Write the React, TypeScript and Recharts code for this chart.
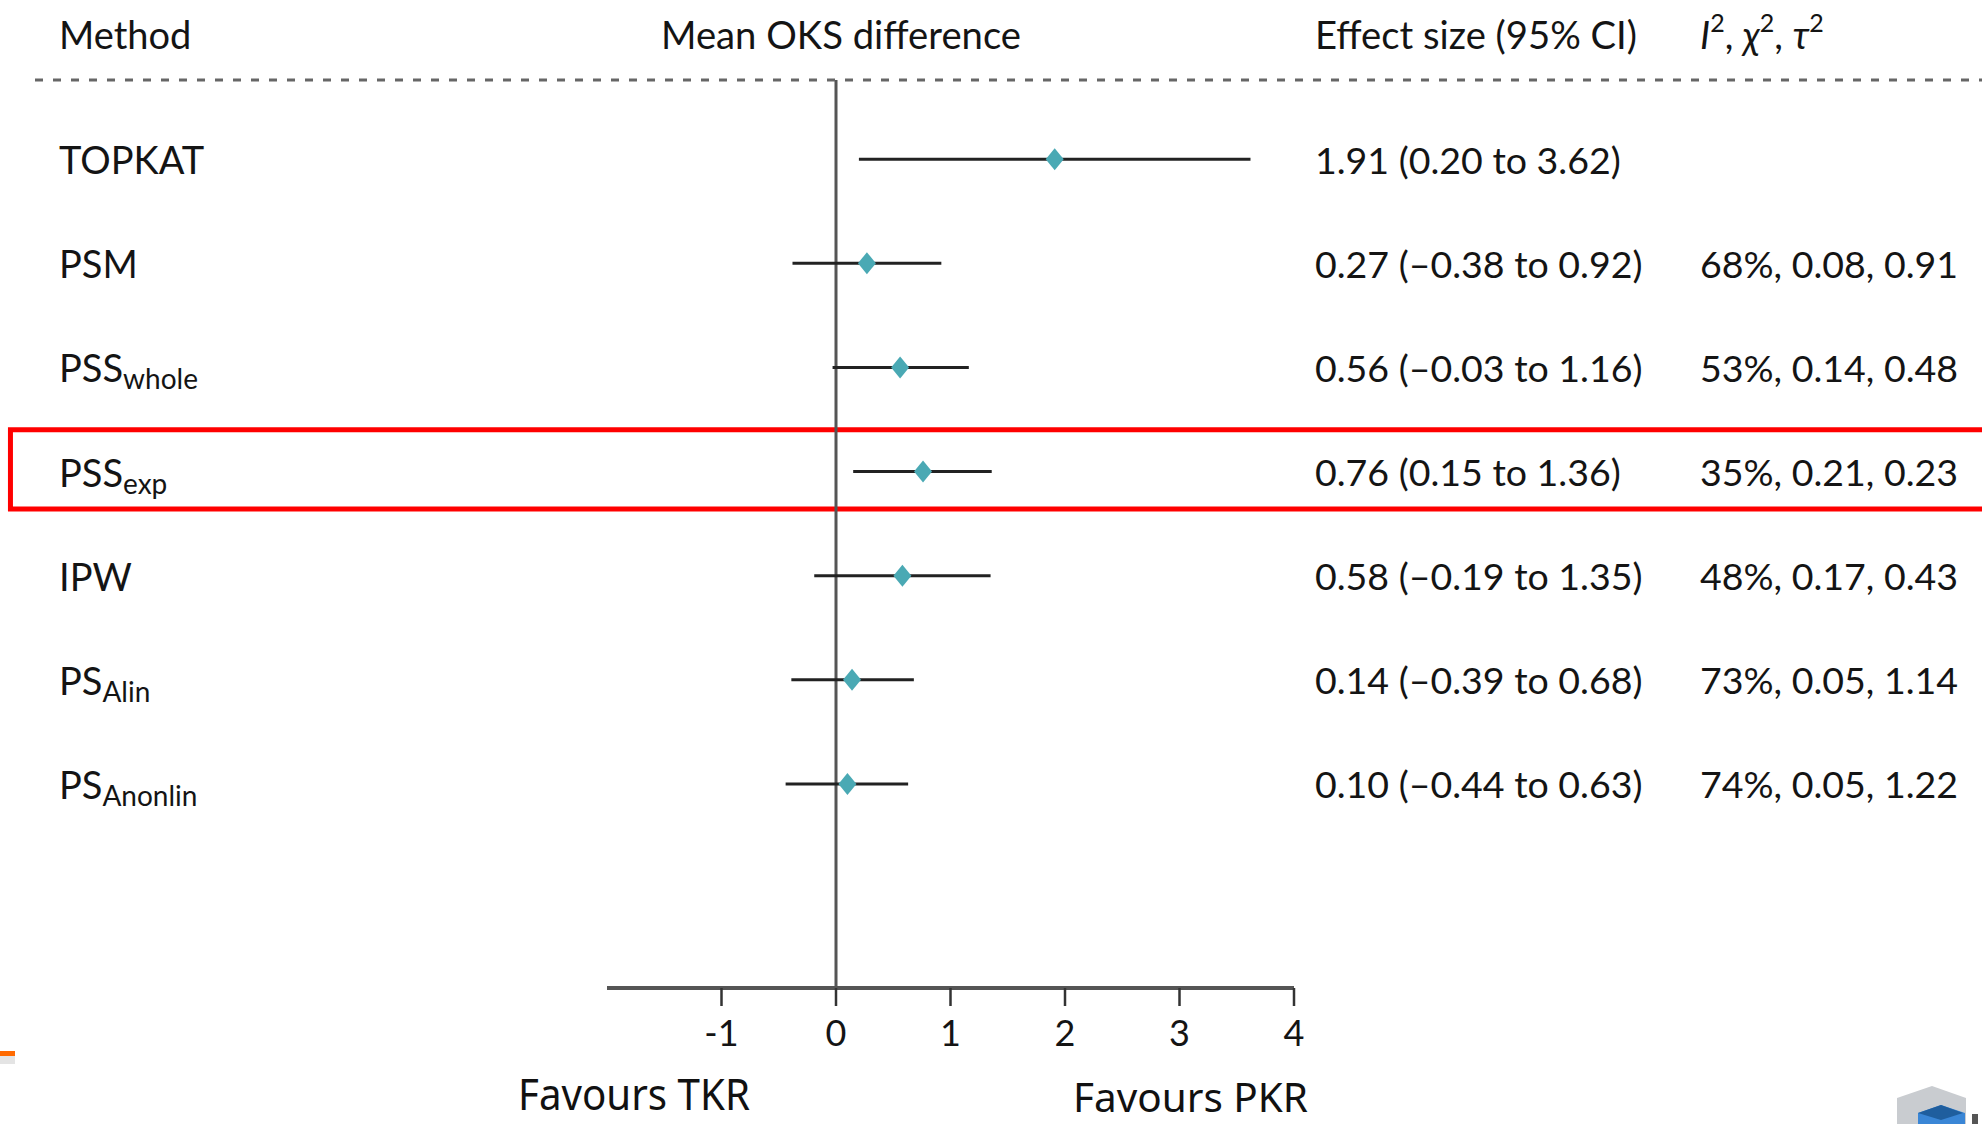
import React from 'react';
import { ComposedChart, Scatter, ErrorBar, XAxis, YAxis, ReferenceLine, ReferenceArea } from 'recharts';

const methodNames = ['TOPKAT', 'PSM', 'PSS', 'PSS', 'IPW', 'PS', 'PS'];
const methodSubscripts = ['', '', 'whole', 'exp', '', 'Alin', 'Anonlin'];
const estimates = [1.91, 0.27, 0.56, 0.76, 0.58, 0.14, 0.1];
const lowerCI = [0.2, -0.38, -0.03, 0.15, -0.19, -0.39, -0.44];
const upperCI = [3.62, 0.92, 1.16, 1.36, 1.35, 0.68, 0.63];
const effectLabels = [
  '1.91 (0.20 to 3.62)',
  '0.27 (–0.38 to 0.92)',
  '0.56 (–0.03 to 1.16)',
  '0.76 (0.15 to 1.36)',
  '0.58 (–0.19 to 1.35)',
  '0.14 (–0.39 to 0.68)',
  '0.10 (–0.44 to 0.63)',
];
const heterogeneityLabels = [
  '',
  '68%, 0.08, 0.91',
  '53%, 0.14, 0.48',
  '35%, 0.21, 0.23',
  '48%, 0.17, 0.43',
  '73%, 0.05, 1.14',
  '74%, 0.05, 1.22',
];
const xTicks = [-1, 0, 1, 2, 3, 4];
const xDomain = [-2, 4];
const rowIndices = [0, 1, 2, 3, 4, 5, 6];
const rowDomain = [-0.76, 7.96];
const highlightedRow = 3;

const data = rowIndices.map((i) => ({
  row: i,
  est: estimates[i],
  err: [estimates[i] - lowerCI[i], upperCI[i] - estimates[i]],
}));

const FONT = 'Lato, "Noto Sans", sans-serif';
const TEXT = '#141414';

const RowTick = (props: any) => {
  const { y, payload } = props;
  const i = payload.value as number;
  return (
    <g>
      <text x={59} y={y} fontFamily={FONT} fontSize={38} fill={TEXT} dominantBaseline="central">
        {methodNames[i]}
        {methodSubscripts[i] ? (
          <tspan fontSize={28} dy={11}>{methodSubscripts[i]}</tspan>
        ) : null}
      </text>
      <text x={1315} y={y} fontFamily={FONT} fontSize={37.5} fill={TEXT} dominantBaseline="central">
        {effectLabels[i]}
      </text>
      <text x={1700} y={y} fontFamily={FONT} fontSize={37.5} fill={TEXT} dominantBaseline="central">
        {heterogeneityLabels[i]}
      </text>
    </g>
  );
};

const Diamond = (props: any) => {
  const { cx, cy } = props;
  if (cx == null || cy == null) return null;
  return (
    <polygon
      points={`${cx - 9},${cy} ${cx},${cy - 11} ${cx + 9},${cy} ${cx},${cy + 11}`}
      fill="#4aa9b4"
    />
  );
};

export default function App() {
  return (
    <div style={{ position: 'absolute', left: 0, top: 0, width: 1982, height: 1124, background: '#fff' }}>
      <div style={{ position: 'absolute', left: 0, top: 0 }}>
        <ComposedChart
          width={1982}
          height={1124}
          data={data}
          margin={{ top: 80, right: 688, bottom: 56, left: 0 }}
        >
          <XAxis
            type="number"
            dataKey="est"
            domain={xDomain}
            ticks={xTicks}
            allowDataOverflow
            axisLine={{ stroke: '#555', strokeWidth: 4 }}
            tickLine={{ stroke: '#333', strokeWidth: 2.5 }}
            tickSize={18}
            tickMargin={14}
            height={80}
            tick={{ fill: TEXT, fontSize: 36, fontFamily: FONT }}
          />
          <YAxis
            type="number"
            dataKey="row"
            domain={rowDomain}
            ticks={rowIndices}
            interval={0}
            reversed
            allowDataOverflow
            width={607}
            axisLine={false}
            tickLine={false}
            tick={<RowTick />}
          />
          <ReferenceArea
            x1={-7.21}
            x2={10.2}
            y1={highlightedRow - 0.4}
            y2={highlightedRow + 0.36}
            ifOverflow="visible"
            fill="none"
            fillOpacity={0}
            stroke="#ff0000"
            strokeWidth={5}
          />
          <ReferenceLine x={0} stroke="#555" strokeWidth={3} />
          <Scatter dataKey="est" isAnimationActive={false} shape={<Diamond />}>
            <ErrorBar dataKey="err" direction="x" width={0} stroke="#222" strokeWidth={3} isAnimationActive={false} />
          </Scatter>
        </ComposedChart>
      </div>
      <svg
        width={1982}
        height={1124}
        style={{ position: 'absolute', left: 0, top: 0, pointerEvents: 'none' }}
      >
        <g fontFamily={FONT} fontSize={38} fill={TEXT}>
          <text x={59} y={34} dominantBaseline="central">Method</text>
          <text x={661} y={34} dominantBaseline="central" textLength={360} lengthAdjust="spacingAndGlyphs">Mean OKS difference</text>
          <text x={1315} y={34} dominantBaseline="central" textLength={322} lengthAdjust="spacingAndGlyphs">Effect size (95% CI)</text>
          <text x={1700} y={34} dominantBaseline="central">
            <tspan fontStyle="italic">I</tspan>
            <tspan fontSize={25} dy={-12}>2</tspan>
            <tspan dy={12}>, </tspan>
            <tspan fontStyle="italic">χ</tspan>
            <tspan fontSize={25} dy={-12}>2</tspan>
            <tspan dy={12}>, </tspan>
            <tspan fontStyle="italic">τ</tspan>
            <tspan fontSize={25} dy={-12}>2</tspan>
          </text>
        </g>
        <line x1={35} y1={80} x2={1982} y2={80} stroke="#666" strokeWidth={3} strokeDasharray="8 10" />
        <text x={518} y={1093} fontFamily='"Noto Sans", sans-serif' fontSize={44} fill="#111"
          dominantBaseline="central" textLength={232} lengthAdjust="spacingAndGlyphs">Favours TKR</text>
        <text x={1073} y={1096} fontFamily='"Noto Sans", sans-serif' fontSize={40} fill="#111"
          dominantBaseline="central" textLength={235} lengthAdjust="spacingAndGlyphs">Favours PKR</text>
        <rect x={0} y={1051} width={15} height={5} fill="#ff6a00" />
        <rect x={0} y={1056} width={15} height={8} fill="#e4e4e4" />
        <polygon points="1897,1098 1932,1086 1966,1098 1966,1124 1897,1124" fill="#c9ccd0" />
        <polygon points="1918,1124 1918,1113 1941,1105 1965,1113 1965,1124" fill="#3a86d6" />
        <polygon points="1918,1113 1941,1105 1963,1113 1941,1120" fill="#1f5e9e" />
        <rect x={1972} y={1114} width={6} height={10} fill="#555" />
      </svg>
    </div>
  );
}
